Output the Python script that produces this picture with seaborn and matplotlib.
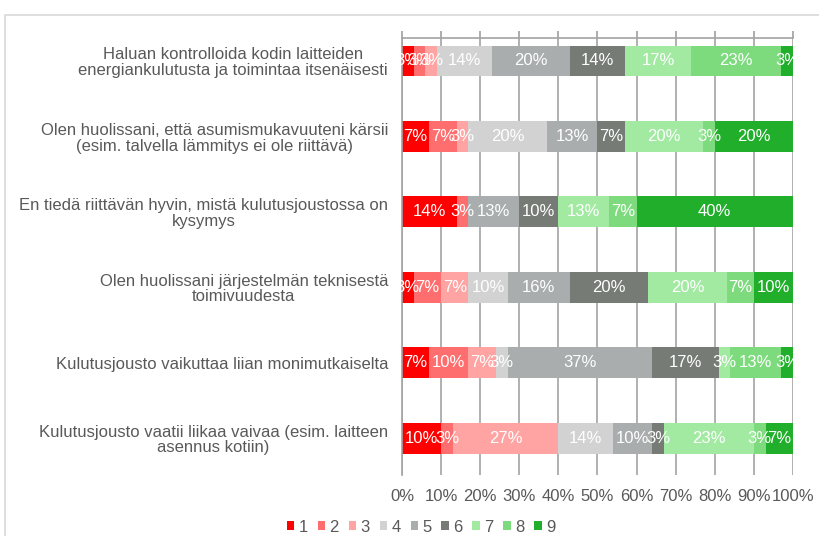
import numpy as np
import pandas as pd
import matplotlib
matplotlib.use("Agg")
import matplotlib.pyplot as plt
from matplotlib.patches import Patch, Rectangle
import seaborn as sns

categories = [
    "Haluan kontrolloida kodin laitteiden\nenergiankulutusta ja toimintaa itsenäisesti",
    "Olen huolissani, että asumismukavuuteni kärsii\n(esim. talvella lämmitys ei ole riittävä)",
    "En tiedä riittävän hyvin, mistä kulutusjoustossa on\nkysymys",
    "Olen huolissani järjestelmän teknisestä\ntoimivuudesta",
    "Kulutusjousto vaikuttaa liian monimutkaiselta",
    "Kulutusjousto vaatii liikaa vaivaa (esim. laitteen\nasennus kotiin)",
]
levels = ["1", "2", "3", "4", "5", "6", "7", "8", "9"]
# percentage per level (1..9) for each statement
row_values = [
    [3, 3, 3, 14, 20, 14, 17, 23, 3],
    [7, 7, 3, 20, 13, 7, 20, 3, 20],
    [14, 3, 0, 0, 13, 10, 13, 7, 40],
    [3, 7, 7, 10, 16, 20, 20, 7, 10],
    [7, 10, 7, 3, 37, 17, 3, 13, 3],
    [10, 3, 27, 14, 10, 3, 23, 3, 7],
]
colors = ["#ff0000", "#ff6e6e", "#ffa3a3", "#d2d2d2", "#a9adad",
          "#767b76", "#a2eaa2", "#7ddb7e", "#20ae2b"]
xticks = [0, 10, 20, 30, 40, 50, 60, 70, 80, 90, 100]
xticklabels = ["0%", "10%", "20%", "30%", "40%", "50%", "60%", "70%", "80%", "90%", "100%"]

sns.set_theme(style="white")
plt.rcParams["font.family"] = ["Liberation Sans", "DejaVu Sans"]

FS = 12

vals = np.array(row_values, dtype=float)
cum = np.cumsum(vals, axis=1)
df = pd.DataFrame(cum, columns=levels)
df["cat"] = categories

fig = plt.figure(figsize=(8.2, 5.36), dpi=100)
ax = fig.add_axes([402 / 820, 1 - 475 / 536, (793 - 402) / 820, (475 - 38) / 536])
ax.set_axisbelow(True)

for k in range(len(levels) - 1, -1, -1):
    sns.barplot(data=df, x=levels[k], y="cat", order=categories, color=colors[k],
                orient="h", width=0.41, linewidth=0, saturation=1, ax=ax)

for i in range(len(categories)):
    for k in range(len(levels)):
        v = vals[i, k]
        if v > 0:
            ax.text(cum[i, k] - v / 2, i, f"{int(v)}%", ha="center", va="center",
                    color="white", fontsize=FS)

ax.set_xlim(0, 100)
ax.set_ylim(5.49, -0.305)
ax.set_xticks(xticks)
ax.set_xticklabels(xticklabels, color="#595959", fontsize=FS)
ax.set_xlabel("")
ax.set_ylabel("")
ax.xaxis.grid(True, color="#a3a3a3", linewidth=1.2)
ax.yaxis.grid(False)
ax.tick_params(axis="x", top=True, bottom=False, labelbottom=True, labeltop=False,
               direction="out", length=5, color="#a3a3a3", pad=5)
ax.tick_params(axis="y", length=0, pad=10, labelsize=FS, labelcolor="#595959")
for lab in ax.get_yticklabels():
    lab.set_multialignment("center")
    lab.set_linespacing(1.05)
for s in ["right", "bottom"]:
    ax.spines[s].set_visible(False)
for s in ["top", "left"]:
    ax.spines[s].set_color("#a3a3a3")
    ax.spines[s].set_linewidth(1.2)

handles = [Patch(facecolor=c, edgecolor="none", label=l) for c, l in zip(colors, levels)]
fig.legend(handles=handles, loc="center", bbox_to_anchor=(421 / 820, 1 - 527 / 536),
           ncol=9, frameon=False, handlelength=0.45, handleheight=0.45, handletextpad=0.25,
           columnspacing=0.6, fontsize=FS, labelcolor="#595959", borderpad=0)

fig.add_artist(Rectangle((5 / 820, -0.1), 1.2, 1.1 - 15 / 536, transform=fig.transFigure,
                         fill=False, edgecolor="#d9d9d9", linewidth=1.2))

fig.savefig("out.png", dpi=100)
